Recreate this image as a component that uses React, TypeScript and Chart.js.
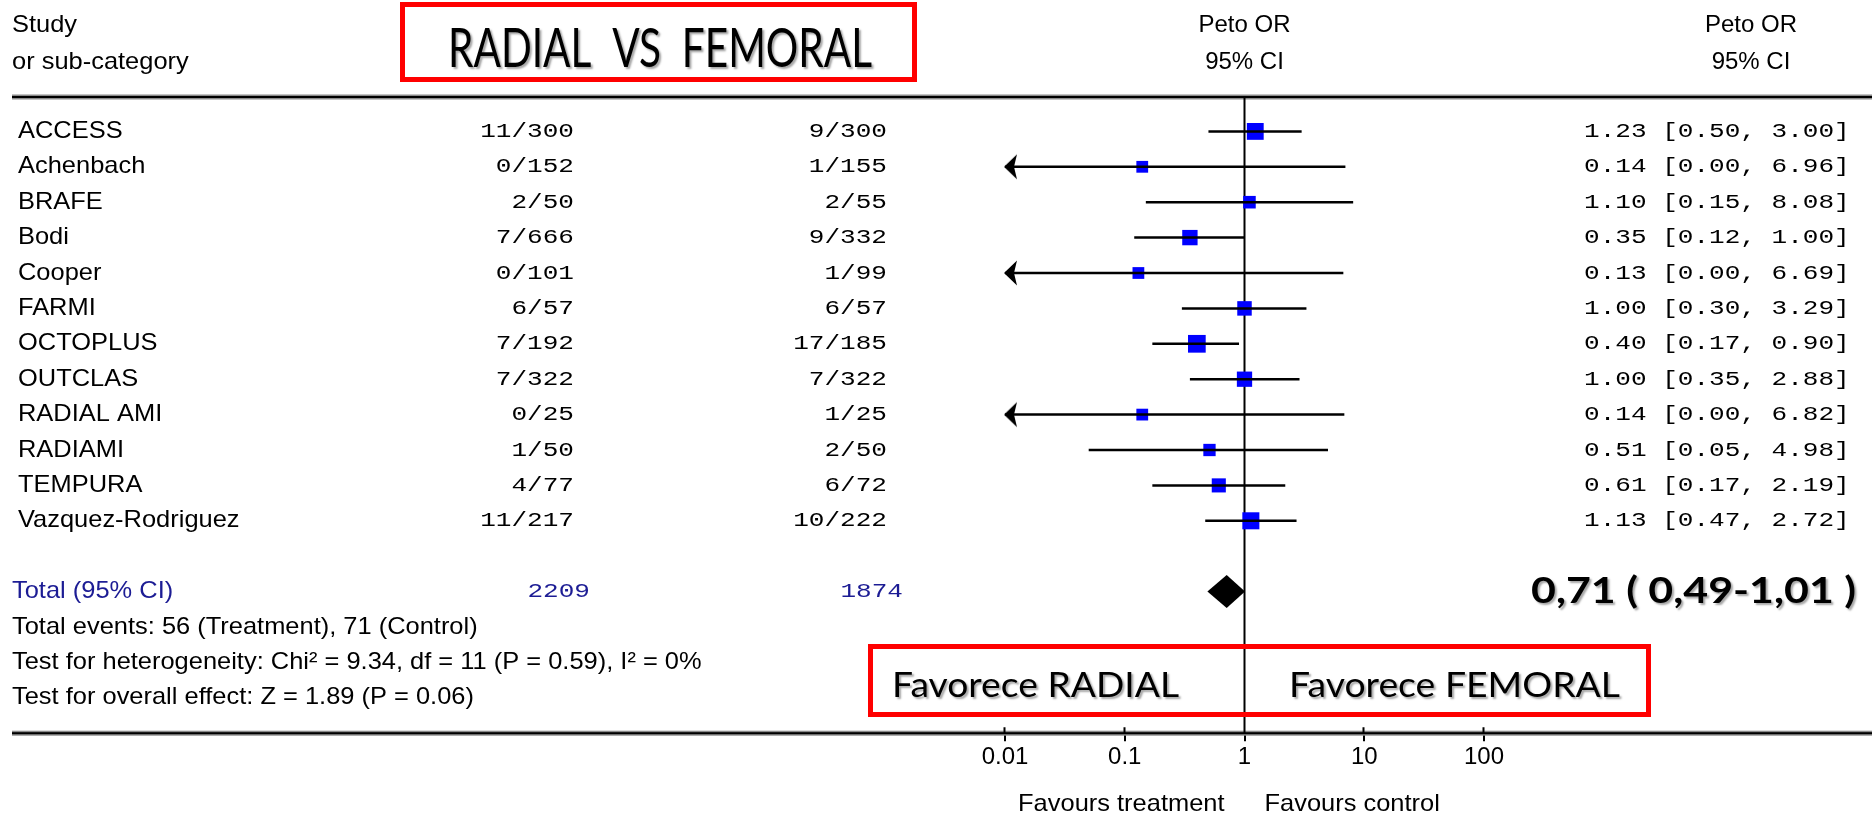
import React, { useEffect, useRef } from 'react';
import { Chart, registerables } from 'chart.js';

Chart.register(...registerables);

// ---------- data ----------
const studies = ['ACCESS', 'Achenbach', 'BRAFE', 'Bodi', 'Cooper', 'FARMI', 'OCTOPLUS', 'OUTCLAS', 'RADIAL AMI', 'RADIAMI', 'TEMPURA', 'Vazquez-Rodriguez'];
const treatEvents = [11, 0, 2, 7, 0, 6, 7, 7, 0, 1, 4, 11];
const treatTotals = [300, 152, 50, 666, 101, 57, 192, 322, 25, 50, 77, 217];
const ctrlEvents = [9, 1, 2, 9, 1, 6, 17, 7, 1, 2, 6, 10];
const ctrlTotals = [300, 155, 55, 332, 99, 57, 185, 322, 25, 50, 72, 222];
const oddsRatios = [1.23, 0.14, 1.10, 0.35, 0.13, 1.00, 0.40, 1.00, 0.14, 0.51, 0.61, 1.13];
const ciLow = [0.50, 0.00, 0.15, 0.12, 0.00, 0.30, 0.17, 0.35, 0.00, 0.05, 0.17, 0.47];
const ciHigh = [3.00, 6.96, 8.08, 1.00, 6.69, 3.29, 0.90, 2.88, 6.82, 4.98, 2.19, 2.72];
const pooledOR = 0.71;
const pooledLow = 0.49;
const pooledHigh = 1.01;
const xTicks = [0.01, 0.1, 1, 10, 100];
const axisMin = 0.01;
const axisMax = 100;

const headerStudy = ['Study', 'or sub-category'];
const headerEffect = ['Peto OR', '95% CI'];
const totalLabel = 'Total (95% CI)';
const footnotes = [
  'Total events: 56 (Treatment), 71 (Control)',
  'Test for heterogeneity: Chi\u00B2 = 9.34, df = 11 (P = 0.59), I\u00B2 = 0%',
  'Test for overall effect: Z = 1.89 (P = 0.06)',
];
const favoursLabels = ['Favours treatment', 'Favours control'];
const titleText = 'RADIAL  VS  FEMORAL';
const favoreceLabels = ['Favorece RADIAL', 'Favorece FEMORAL'];
const pooledText = '0,71 ( 0,49-1,01 )';

// ---------- derived (Peto variance -> weights -> square size) ----------
const petoVar = studies.map((_, i) => {
  const n1 = treatTotals[i], n2 = ctrlTotals[i], N = n1 + n2;
  const m1 = treatEvents[i] + ctrlEvents[i], m2 = N - m1;
  return (n1 * n2 * m1 * m2) / (N * N * (N - 1));
});
const sumVar = petoVar.reduce((a, b) => a + b, 0);
const weightsPct = petoVar.map((v) => (v / sumVar) * 100);

// ---------- styles ----------
const SANS = '"Liberation Sans", Arial, sans-serif';
const MONO = '"Liberation Mono", monospace';
const CAL = 'Lato, "Open Sans", sans-serif';
const NAVY = '#1c1c94';
const BLUE = '#0000ff';
const SANS_SX = 1.06;

function txt(ctx: CanvasRenderingContext2D, s: string, x: number, y: number, font: string, color: string, align: CanvasTextAlign = 'left', sx = 1) {
  ctx.save();
  ctx.translate(x, y);
  ctx.scale(sx, 1);
  ctx.font = font;
  ctx.fillStyle = color;
  ctx.textAlign = align;
  ctx.textBaseline = 'middle';
  ctx.fillText(s, 0, 0);
  ctx.restore();
}

function fitText(ctx: CanvasRenderingContext2D, s: string, x: number, baseline: number, width: number, font: string) {
  ctx.save();
  ctx.font = font;
  const w = ctx.measureText(s).width;
  ctx.translate(x, baseline);
  ctx.scale(width / w, 1);
  ctx.shadowColor = 'rgba(0,0,0,0.35)';
  ctx.shadowOffsetX = 2;
  ctx.shadowOffsetY = 2;
  ctx.shadowBlur = 2;
  ctx.fillStyle = '#000';
  ctx.textAlign = 'left';
  ctx.textBaseline = 'alphabetic';
  ctx.fillText(s, 0, 0);
  ctx.restore();
}

function rule(ctx: CanvasRenderingContext2D, y: number, x0: number, x1: number) {
  ctx.save();
  ctx.fillStyle = '#8a8a8a';
  ctx.fillRect(x0, y - 2.5, x1 - x0, 5);
  ctx.fillStyle = '#000';
  ctx.fillRect(x0, y - 1, x1 - x0, 2);
  ctx.restore();
}

const forestPlugin = {
  id: 'forestDecor',
  beforeDatasetsDraw(chart: any) {
    const { ctx, chartArea, scales } = chart;
    const xs = scales.x;
    const W = chart.width;
    rule(ctx, chartArea.top + 1, 12, W);
    rule(ctx, chartArea.bottom, 12, W);
    const x1 = Math.round(xs.getPixelForValue(1)) - 0.5;
    ctx.save();
    ctx.strokeStyle = '#000';
    ctx.lineWidth = 2;
    ctx.beginPath();
    ctx.moveTo(x1, chartArea.top + 1);
    ctx.lineTo(x1, chartArea.bottom);
    // short upward stubs of the axis ticks, crossing the rule
    xs.ticks.forEach((t: any) => {
      const px = Math.round(xs.getPixelForValue(t.value)) - 0.5;
      ctx.moveTo(px, chartArea.bottom - 6);
      ctx.lineTo(px, chartArea.bottom);
    });
    ctx.stroke();
    ctx.restore();
  },
  afterDatasetsDraw(chart: any) {
    const { ctx, scales } = chart;
    const xs = scales.x;
    const ys = scales.y;
    const sansFont = `24px ${SANS}`;
    const monoFont = `21px ${MONO}`;
    const monoSx = 1.24;

    // headers
    txt(ctx, headerStudy[0], 12, 25, sansFont, '#000', 'left', SANS_SX);
    txt(ctx, headerStudy[1], 12, 62, sansFont, '#000', 'left', SANS_SX);
    const xOne = xs.getPixelForValue(1);
    txt(ctx, headerEffect[0], xOne, 25, sansFont, '#000', 'center');
    txt(ctx, headerEffect[1], xOne, 62, sansFont, '#000', 'center');
    txt(ctx, headerEffect[0], 1751, 25, sansFont, '#000', 'center');
    txt(ctx, headerEffect[1], 1751, 62, sansFont, '#000', 'center');

    // study rows
    studies.forEach((name, i) => {
      const y = ys.getPixelForValue(i);
      txt(ctx, name, 18, y, sansFont, '#000', 'left', SANS_SX);
      txt(ctx, `${treatEvents[i]}/${treatTotals[i]}`, 574, y, monoFont, '#000', 'right', monoSx);
      txt(ctx, `${ctrlEvents[i]}/${ctrlTotals[i]}`, 887, y, monoFont, '#000', 'right', monoSx);
      const eff = `${oddsRatios[i].toFixed(2)} [${ciLow[i].toFixed(2)}, ${ciHigh[i].toFixed(2)}]`;
      txt(ctx, eff, 1584, y, monoFont, '#000', 'left', monoSx);
    });

    // total row
    const totalRow = studies.length + 1;
    const yT = ys.getPixelForValue(totalRow);
    txt(ctx, totalLabel, 12, yT, sansFont, NAVY, 'left', SANS_SX);
    const sumT = treatTotals.reduce((a, b) => a + b, 0);
    const sumC = ctrlTotals.reduce((a, b) => a + b, 0);
    txt(ctx, String(sumT), 590, yT, monoFont, NAVY, 'right', monoSx);
    txt(ctx, String(sumC), 903, yT, monoFont, NAVY, 'right', monoSx);

    // diamond
    const pl = xs.getPixelForValue(pooledLow);
    const pm = xs.getPixelForValue(pooledOR);
    const ph = xs.getPixelForValue(pooledHigh);
    ctx.save();
    ctx.fillStyle = '#000';
    ctx.beginPath();
    ctx.moveTo(pl, yT);
    ctx.lineTo(pm, yT - 16.5);
    ctx.lineTo(ph, yT);
    ctx.lineTo(pm, yT + 16.5);
    ctx.closePath();
    ctx.fill();
    ctx.restore();

    footnotes.forEach((f, k) => {
      txt(ctx, f, 12, ys.getPixelForValue(totalRow + 1 + k), sansFont, '#000', 'left', SANS_SX);
    });

    // favours labels
    txt(ctx, favoursLabels[0], xOne - 20, 804, sansFont, '#000', 'right', SANS_SX);
    txt(ctx, favoursLabels[1], xOne + 20, 804, sansFont, '#000', 'left', SANS_SX);

    // red annotation boxes
    ctx.save();
    ctx.strokeStyle = '#ff0000';
    ctx.lineWidth = 5;
    ctx.strokeRect(402.5, 4.5, 512, 75);
    ctx.strokeRect(870.5, 646.5, 778, 68);
    ctx.restore();
    fitText(ctx, titleText, 448, 67, 424, `54px ${CAL}`);
    fitText(ctx, favoreceLabels[0], 892, 697, 287, `35px ${CAL}`);
    fitText(ctx, favoreceLabels[1], 1289, 697, 331, `35px ${CAL}`);
    fitText(ctx, pooledText, 1531, 603, 325, `bold 36px ${CAL}`);
  },
};

function makeArrow(): HTMLCanvasElement {
  const c = document.createElement('canvas');
  c.width = 28;
  c.height = 28;
  const g = c.getContext('2d')!;
  g.fillStyle = '#000';
  g.beginPath();
  g.moveTo(13, 14);
  g.lineTo(26, 1.5);
  g.lineTo(23, 14);
  g.lineTo(26, 26.5);
  g.closePath();
  g.fill();
  return c;
}

export default function App() {
  const ref = useRef<HTMLCanvasElement | null>(null);
  useEffect(() => {
    if (!ref.current) return;
    const arrow = makeArrow();
    const ciSets = studies.map((name, i) => ({
      type: 'scatter' as const,
      label: name,
      data: [
        { x: Math.max(ciLow[i], axisMin), y: i },
        { x: ciHigh[i], y: i },
      ],
      showLine: true,
      borderColor: '#000',
      borderWidth: 2.5,
      pointRadius: 0,
      clip: false as any,
      order: 2,
    }));
    const squares = {
      type: 'scatter' as const,
      label: 'Peto OR',
      data: oddsRatios.map((v, i) => ({ x: v, y: i })),
      pointStyle: 'rect' as const,
      pointRadius: weightsPct.map((w) => (11.5 + 0.33 * w) / Math.SQRT2),
      backgroundColor: BLUE,
      borderWidth: 0,
      clip: false as any,
      order: 3,
    };
    const arrows = {
      type: 'scatter' as const,
      label: 'arrows',
      data: studies
        .map((_, i) => (ciLow[i] < axisMin ? { x: axisMin, y: i } : null))
        .filter((p) => p !== null) as { x: number; y: number }[],
      pointStyle: arrow,
      pointRadius: 10,
      clip: false as any,
      order: 1,
    };
    const chart = new Chart(ref.current, {
      type: 'scatter',
      data: { datasets: [...ciSets, squares, arrows] as any },
      options: {
        animation: false,
        responsive: false,
        devicePixelRatio: 1,
        events: [],
        layout: { padding: { left: 1005, right: 388, top: 96, bottom: 42 } },
        plugins: { legend: { display: false }, tooltip: { enabled: false } },
        scales: {
          x: {
            type: 'logarithmic',
            min: axisMin,
            max: axisMax,
            position: 'bottom',
            border: { display: false },
            grid: { display: true, drawOnChartArea: false, drawTicks: true, tickLength: 8, color: '#000', lineWidth: 2 },
            afterBuildTicks: (axis: any) => {
              axis.ticks = xTicks.map((v) => ({ value: v }));
            },
            ticks: {
              autoSkip: false,
              maxRotation: 0,
              padding: 2,
              color: '#000',
              font: { family: SANS, size: 24 },
              callback: (v: any) => String(v),
            },
          },
          y: {
            type: 'linear',
            display: false,
            reverse: true,
            min: -1,
            max: 17,
          },
        },
      },
      plugins: [forestPlugin],
    });
    return () => chart.destroy();
  }, []);
  return (
    <div style={{ position: 'fixed', left: 0, top: 0, width: 1872, height: 816, background: '#fff' }}>
      <canvas ref={ref} width={1872} height={816} />
    </div>
  );
}
